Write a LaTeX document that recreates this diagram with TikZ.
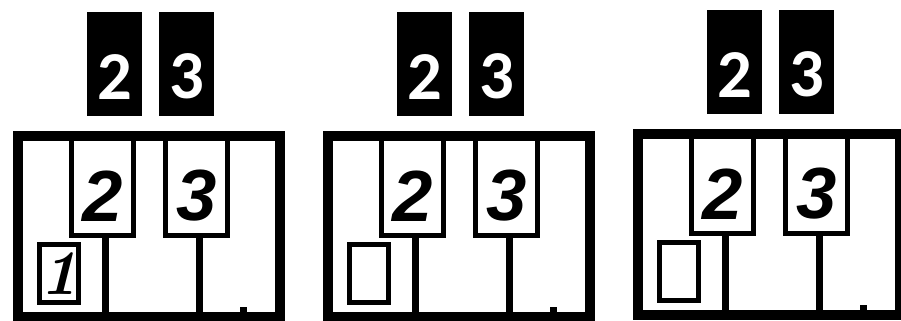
\documentclass[tikz,border=0pt]{standalone}
\usepackage{fontspec}
\usepackage{tikz}
\usetikzlibrary{positioning}
\newfontfamily\keyfont{Carlito}
\newfontfamily\handfont{Liberation Sans}

\begin{document}
\begin{tikzpicture}[x=0.01cm, y=-0.01cm,
  kbframe/.style={draw, line width=0.1cm, minimum width=2.62cm,
                  minimum height=1.81cm, anchor=north west, inner sep=0pt},
  blackkey/.style={fill=black, minimum width=0.55cm, minimum height=1.04cm,
                   anchor=north west, inner sep=0pt, outer sep=0pt},
  blackdigit/.style={text=white, inner sep=0pt,
                     font=\keyfont\bfseries\fontsize{19.5}{20}\selectfont},
  whitekey/.style={draw, line width=0.05cm, minimum width=0.62cm,
                   minimum height=0.995cm, anchor=north west, inner sep=0pt},
  whitedigit/.style={inner sep=0pt,
                     font=\handfont\bfseries\itshape\fontsize{20.6}{21}\selectfont},
  fingerbox/.style={draw, line width=0.05cm, minimum width=0.39cm,
                    minimum height=0.58cm, anchor=north west, inner sep=0pt},
  divider/.style={line width=0.07cm},
]
  \useasboundingbox[fill=white] (0,0) rectangle (901,320);

  % three keyboards side by side
  \foreach \i/\x/\dy in {1/13/0, 2/323/0, 3/633/-2} {
    \node[kbframe] (fr\i) at (\x, 131+\dy) {};
    % black keys above
    \node[blackkey] (kb2\i) at (\x+74, 12+\dy) {};
    \node[blackkey] (kb3\i) at (\x+146, 12+\dy) {};
    \node[blackdigit, above=0.16cm of kb2\i.south] (db2\i) {2};
    \node[blackdigit, above=0.16cm of kb3\i.south] (db3\i) {3};
    % white keys inside the frame
    \node[whitekey] (kw2\i) at (\x+56, 133.5+\dy) {};
    \node[whitekey] (kw3\i) at (\x+150, 133.5+\dy) {};
    \node[whitedigit, above=0.16cm of kw2\i.south] (dw2\i) {2};
    \node[whitedigit, above=0.16cm of kw3\i.south] (dw3\i) {3};
    \draw[divider] ([xshift=0.025cm]kw2\i.south) -- ([xshift=0.025cm]kw2\i.south |- fr\i.south);
    \draw[divider] ([xshift=0.03cm]kw3\i.south) -- ([xshift=0.03cm]kw3\i.south |- fr\i.south);
    % small box and mark
    \node[fingerbox] (fb\i) at (\x+24, 242+\dy) {};
    \fill (\x+227, 307+\dy) rectangle +(7,5);
  }
  \node[inner sep=0pt, font=\fontsize{18}{18}\selectfont\bfseries\itshape] (f1) at (fb1.center) {1};
\end{tikzpicture}
\end{document}
